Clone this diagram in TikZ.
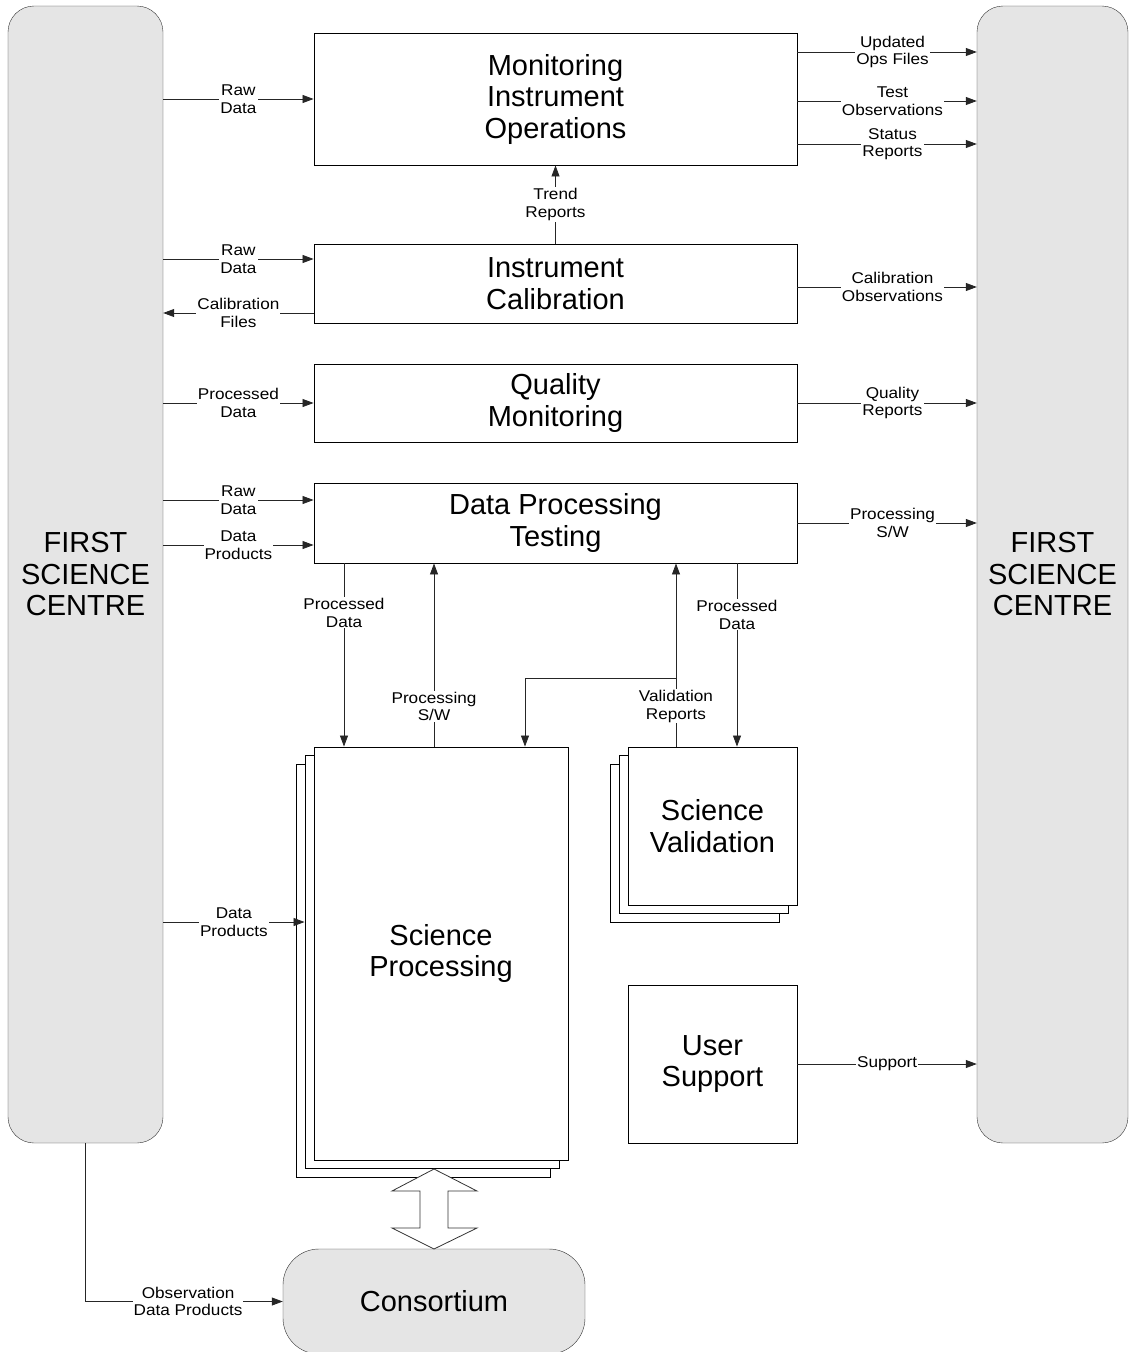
\documentclass[tikz,border=0pt]{standalone}
\usepackage{fontspec}
\setmainfont{Liberation Sans}
\newfontfamily\lblfont[FakeStretch=1.1]{Liberation Sans}
\usetikzlibrary{arrows.meta,shadows}
\newcommand\bigtxt{\fontsize{29}{31.5}\selectfont}
\newcommand\lbltxt{\lblfont\fontsize{15.6}{17.5}\selectfont}

\begin{document}
\begin{tikzpicture}
    [x=1pt, y=-1pt,
     Centre/.style={draw=black!80, fill=black!10, rounded corners=26pt, minimum width=155pt, minimum height=1137pt, align=center, font=\bigtxt},
     ProcBox/.style={draw=black, fill=white, line width=0.9pt, minimum width=483pt, align=center, font=\bigtxt},
     StackBox/.style={ProcBox, double copy shadow={shadow xshift=-9pt, shadow yshift=-8.5pt}},
     Consort/.style={draw=black!80, fill=black!10, rounded corners=36pt, minimum width=302pt, minimum height=105pt, font=\bigtxt},
     Flow/.style={-{Triangle[length=11pt, width=8pt]}, line width=0.8pt, draw=black!85},
     Lbl/.style={fill=white, inner sep=1pt, align=center, font=\lbltxt}]
    \useasboundingbox (0,0) rectangle (1131,1352);
    % the two ends of the science centre
    \node[Centre] (fscL) at (85.5, 574.5){FIRST\\SCIENCE\\CENTRE};
    \node[Centre, minimum width=151pt] (fscR) at (1052.5, 574.5){FIRST\\SCIENCE\\CENTRE};
    % process boxes
    \node[ProcBox, minimum height=132pt] (mio) at (555.5, 99){Monitoring\\Instrument\\Operations};
    \node[ProcBox, minimum height=79pt] (ical) at (555.5, 283.5){Instrument\\Calibration};
    \node[ProcBox, minimum height=78pt] (qmon) at (555.5, 403){Quality\\Monitoring};
    \node[ProcBox, minimum height=80pt] (dpt) at (555.5, 523){Data Processing\\Testing};
    \node[StackBox, minimum width=254pt, minimum height=413pt] (sproc) at (441, 953.5){Science\\Processing};
    \node[StackBox, minimum width=169pt, minimum height=158pt] (sval) at (712.5, 826){Science\\Validation};
    \node[ProcBox, minimum width=169pt, minimum height=158pt] (usup) at (712.5, 1064){User\\Support};
    \node[Consort] (cons) at (434, 1301.5){Consortium};
    \coordinate (vsplit) at (676, 678);
    % exchange between science processing and consortium
    \draw[draw=black!80, fill=white, line width=0.8pt] (434,1169) -- (477,1191) -- (448,1191) -- (448,1228) -- (477,1228)
        -- (434,1249) -- (392,1228) -- (420,1228) -- (420,1191) -- (392,1191) -- cycle;
    % inputs from the left
    \draw[Flow] (fscL.east |- mio.west) -- node[Lbl]{Raw\\Data} (mio.west);
    \draw[Flow] (fscL.east |- 0,259) -- node[Lbl]{Raw\\Data} (ical.west |- 0,259);
    \draw[Flow] (ical.west |- 0,313) -- node[Lbl]{Calibration\\Files} (fscL.east |- 0,313);
    \draw[Flow] (fscL.east |- qmon.west) -- node[Lbl]{Processed\\Data} (qmon.west);
    \draw[Flow] (fscL.east |- 0,500) -- node[Lbl]{Raw\\Data} (dpt.west |- 0,500);
    \draw[Flow] (fscL.east |- 0,545) -- node[Lbl]{Data\\Products} (dpt.west |- 0,545);
    \draw[Flow] (fscL.east |- 0,922) -- node[Lbl]{Data\\Products} ([xshift=-9pt]sproc.west |- 0,922);
    \draw[Flow] (fscL.south) |- node[Lbl, pos=0.76]{Observation\\Data Products} (cons.west);
    % outputs to the right
    \draw[Flow] (mio.east |- 0,52) -- node[Lbl, pos=0.53]{Updated\\Ops Files} (fscR.west |- 0,52);
    \draw[Flow] (mio.east |- 0,101) -- node[Lbl, pos=0.53]{Test\\Observations} (fscR.west |- 0,101);
    \draw[Flow] (mio.east |- 0,144) -- node[Lbl, pos=0.53]{Status\\Reports} (fscR.west |- 0,144);
    \draw[Flow] (ical.east |- 0,287) -- node[Lbl, pos=0.53]{Calibration\\Observations} (fscR.west |- 0,287);
    \draw[Flow] (qmon.east) -- node[Lbl, pos=0.53]{Quality\\Reports} (fscR.west |- qmon.east);
    \draw[Flow] (dpt.east) -- node[Lbl, pos=0.53]{Processing\\S/W} (fscR.west |- dpt.east);
    \draw[Flow] (usup.east) -- node[Lbl]{Support} (fscR.west |- usup.east);
    % links between the boxes
    \draw[Flow] (ical.north) -- node[Lbl]{Trend\\Reports} (mio.south);
    \draw[Flow] (dpt.south -| 344,0) -- node[Lbl, pos=0.27]{Processed\\Data} (sproc.north -| 344,0);
    \draw[Flow] (sproc.north -| 434,0) -- node[Lbl, pos=0.22]{Processing\\S/W} (dpt.south -| 434,0);
    \draw[Flow] (sval.north -| vsplit) -- node[Lbl, pos=0.22]{Validation\\Reports} (dpt.south -| vsplit);
    \draw[Flow] (vsplit) -| (sproc.north -| 525,0);
    \draw[Flow] (dpt.south -| 737,0) -- node[Lbl, pos=0.28]{Processed\\Data} (sval.north -| 737,0);
\end{tikzpicture}
\end{document}
